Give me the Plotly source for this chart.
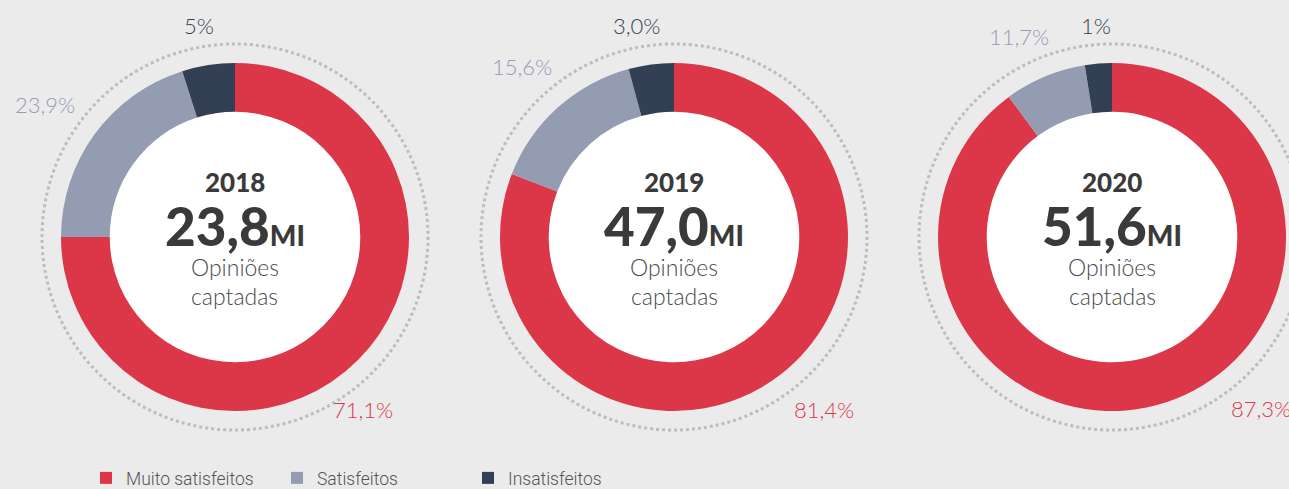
import plotly.graph_objects as go

# ---- data ----
years = ["2018", "2019", "2020"]
totals = ["23,8", "47,0", "51,6"]
categories = ["Muito satisfeitos", "Satisfeitos", "Insatisfeitos"]
# shares as drawn by the arcs in the picture (percent of circle)
arc_2018 = [75.0, 20.1, 4.9]
arc_2019 = [80.9, 14.9, 4.2]
arc_2020 = [89.9, 7.6, 2.5]
# printed percentage labels
labels_2018 = ["71,1%", "23,9%", "5%"]
labels_2019 = ["81,4%", "15,6%", "3,0%"]
labels_2020 = ["87,3%", "11,7%", "1%"]

arcs = [arc_2018, arc_2019, arc_2020]
pct_labels = [labels_2018, labels_2019, labels_2020]

colors = ["#DB3749", "#949CB2", "#333F54"]
BG = "#EBEBEB"
W, H = 1289, 489

# layout geometry (pixels)
centers_x = [235, 674, 1112]
cy = 237
R = 174
HOLE = 0.72
R_DOT = 193

def px(x):
    return x / W

def py(y):
    return 1 - y / H

fig = go.Figure()
for i, yr in enumerate(years):
    cx = centers_x[i]
    fig.add_trace(go.Pie(
        labels=categories,
        values=arcs[i],
        marker=dict(colors=colors, line=dict(width=0)),
        hole=HOLE,
        sort=False,
        direction="clockwise",
        rotation=0,
        textinfo="none",
        hoverinfo="label+text",
        hovertext=pct_labels[i],
        domain=dict(x=[px(cx - R), px(cx + R)], y=[py(cy + R), py(cy - R)]),
        showlegend=(i == 0),
        name=yr,
    ))

shapes = []
annotations = []
pct_font = "Lato"
for i, yr in enumerate(years):
    cx = centers_x[i]
    # white inner disc
    ri = R * HOLE + 2
    shapes.append(dict(type="circle", xref="paper", yref="paper", layer="below",
                       x0=px(cx - ri), x1=px(cx + ri), y0=py(cy + ri), y1=py(cy - ri),
                       fillcolor="white", line=dict(width=0)))
    # dotted outer ring
    shapes.append(dict(type="circle", xref="paper", yref="paper", layer="below",
                       x0=px(cx - R_DOT), x1=px(cx + R_DOT), y0=py(cy + R_DOT), y1=py(cy - R_DOT),
                       fillcolor="rgba(0,0,0,0)",
                       line=dict(width=3, color="#BDBDBD", dash="3px,3px")))
    # center texts
    annotations.append(dict(x=px(cx), y=py(cy - 55), xref="paper", yref="paper",
                            text=yr, showarrow=False, xanchor="center", yanchor="middle",
                            font=dict(family="Lato", size=26, color="#3A3A3A", weight=900)))
    annotations.append(dict(x=px(cx), y=py(cy - 12), xref="paper", yref="paper",
                            text=f"{totals[i]}<span style='font-size:28px'>MI</span>",
                            showarrow=False, xanchor="center", yanchor="middle",
                            font=dict(family="Lato", size=53, color="#3A3A3A", weight=900)))
    annotations.append(dict(x=px(cx), y=py(cy + 30), xref="paper", yref="paper",
                            text="Opiniões", showarrow=False, xanchor="center", yanchor="middle",
                            font=dict(family="Lato", size=23, color="#4A4A4A", weight=300)))
    annotations.append(dict(x=px(cx), y=py(cy + 59), xref="paper", yref="paper",
                            text="captadas", showarrow=False, xanchor="center", yanchor="middle",
                            font=dict(family="Lato", size=23, color="#4A4A4A", weight=300)))

# percentage labels: (x, y) pixel centers for [red, gray, dark]
label_pos = [
    [(363, 409), (45, 105), (199, 25)],
    [(824, 409), (522, 67), (637, 25)],
    [(1261, 408), (1019, 37), (1096, 25)],
]
for i in range(3):
    for j in range(3):
        x, y = label_pos[i][j]
        annotations.append(dict(x=px(x), y=py(y), xref="paper", yref="paper",
                                text=pct_labels[i][j], showarrow=False,
                                xanchor="center", yanchor="middle",
                                font=dict(family=pct_font, size=22, color=colors[j], weight=300)))

fig.update_layout(
    width=W, height=H,
    margin=dict(l=0, r=0, t=0, b=0, autoexpand=False),
    paper_bgcolor=BG, plot_bgcolor=BG,
    shapes=shapes,
    annotations=annotations,
    showlegend=True,
    legend=dict(orientation="h", x=px(86), y=py(478), xanchor="left", yanchor="middle",
                entrywidth=146, entrywidthmode="pixels",
                font=dict(family="Roboto", size=17.5, color="#555555", weight=300),
                bgcolor="rgba(0,0,0,0)", traceorder="normal"),
)

fig.write_html(
    "out.html",
    config={"displayModeBar": False},
    post_script="document.body.style.margin='0';document.body.style.padding='0';"
                "document.documentElement.style.overflow='hidden';",
)
